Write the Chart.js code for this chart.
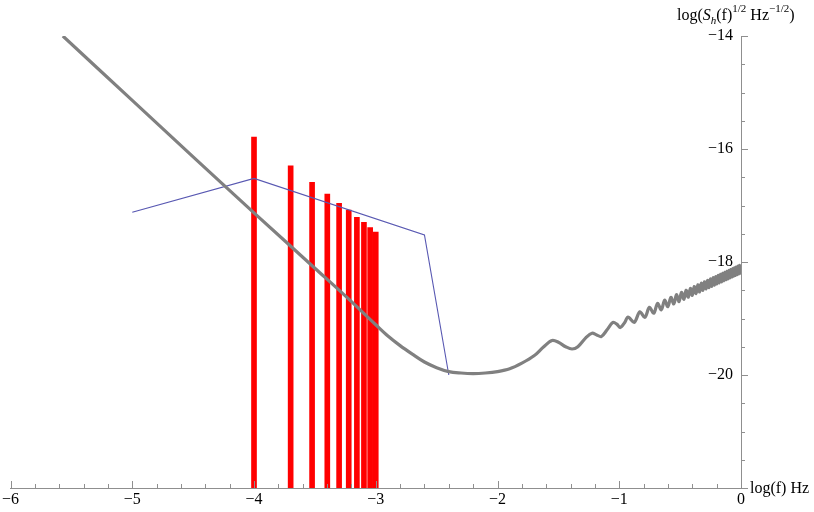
<!DOCTYPE html>
<html>
<head>
<meta charset="utf-8">
<script src="https://cdn.jsdelivr.net/npm/chart.js@4.4.0/dist/chart.umd.min.js"></script>
<style>
  html, body { margin: 0; padding: 0; background: #fff; }
  #wrap { position: relative; width: 814px; height: 512px; overflow: hidden; }
  canvas { position: absolute; left: 0; top: 0; }
  .ttl { position: absolute; font-family: "Liberation Serif", "DejaVu Serif", serif; font-size: 16px; color: #000; white-space: nowrap; line-height: 1; }
  .ttl sup, .ttl sub { font-size: 11px; line-height: 0; }
  .ttl sup { position: relative; top: -0.15em; vertical-align: super; }
  .ttl sub { position: relative; vertical-align: sub; }
</style>
</head>
<body>
<div id="wrap">
  <canvas id="c" width="814" height="512"></canvas>
  <div class="ttl" id="xt" style="left:750px; top:480px;">log(f) Hz</div>
  <div class="ttl" id="yt" style="left:677px; top:7px;">log(<i>S</i><sub><i>h</i></sub>(f)<sup>1/2</sup> Hz<sup>&minus;1/2</sup>)</div>
</div>
<script>
// ---------- data ----------
const xTicks = [-6, -5, -4, -3, -2, -1, 0];
const yTicks = [-20, -18, -16, -14];
const xRange = [-6, 0];
const yRange = [-22, -14];

// red bars: log10 of harmonic frequencies and their tops
const barFreq = [-4.000, -3.699, -3.523, -3.398, -3.301, -3.222, -3.155, -3.097, -3.046, -3.000];
const barTops = [-15.79, -16.30, -16.59, -16.80, -16.96, -17.08, -17.21, -17.30, -17.39, -17.47];

// thin blue broken line
const blueFreq = [-5.0, -4.0, -2.6, -2.4];
const blueVals = [-17.12, -16.52, -17.52, -20.0];

// gray sensitivity curve
const sensFreq = [
  -5.57, -5.0, -4.5, -4.0, -3.5, -3.25, -3.0, -2.9, -2.8, -2.7, -2.6, -2.5, -2.4, -2.3, -2.2, -2.1, -2.0,
  -1.9, -1.8, -1.7, -1.62, -1.552, -1.50, -1.44, -1.388, -1.34, -1.27, -1.224, -1.185, -1.148, -1.10,
  -1.052, -1.02, -0.992, -0.955, -0.928,
  -0.877, -0.831, -0.790, -0.752, -0.717, -0.685, -0.655, -0.627, -0.601, -0.576, -0.552, -0.530,
  -0.509, -0.489, -0.469, -0.451, -0.433, -0.416, -0.400, -0.384, -0.369, -0.354, -0.340, -0.326,
  -0.313, -0.300, -0.287, -0.275, -0.263, -0.251, -0.240, -0.229, -0.218, -0.208, -0.198, -0.188,
  -0.178, -0.168, -0.159, -0.150, -0.141, -0.132, -0.124, -0.115, -0.107, -0.099, -0.091, -0.083,
  -0.075, -0.068, -0.060, -0.053, -0.046, -0.039, -0.032, -0.025, -0.018, -0.012, -0.005, 0.0
];
const sensVals = [
  -14.0, -15.14, -16.14, -17.13, -18.11, -18.60, -19.11, -19.31, -19.48, -19.63, -19.77, -19.87, -19.94, -19.965, -19.975, -19.965, -19.94,
  -19.89, -19.79, -19.66, -19.50, -19.39, -19.42, -19.50, -19.54, -19.50, -19.33, -19.26, -19.29, -19.32, -19.20,
  -19.07, -19.10, -19.16, -19.07, -18.975,
  -19.067, -18.881, -18.980, -18.802, -18.907, -18.735, -18.845, -18.677, -18.791, -18.626, -18.742, -18.580,
  -18.699, -18.539, -18.659, -18.501, -18.623, -18.466, -18.590, -18.434, -18.559, -18.404, -18.530, -18.376,
  -18.503, -18.350, -18.477, -18.325, -18.453, -18.301, -18.430, -18.279, -18.408, -18.258, -18.388, -18.238,
  -18.368, -18.218, -18.349, -18.200, -18.331, -18.182, -18.314, -18.165, -18.297, -18.149, -18.281, -18.133,
  -18.265, -18.118, -18.250, -18.103, -18.236, -18.089, -18.222, -18.075, -18.208, -18.062, -18.195, -18.07
];

// ---------- style ----------
const AXIS = '#8f8f8f';
const FONT = { family: '"Liberation Serif", "DejaVu Serif", serif', size: 16 };
const fmt = v => (v < 0 ? '\u2212' + Math.abs(v) : String(v));

const minorTicks = {
  id: 'minorTicks',
  afterDraw(chart) {
    const ctx = chart.ctx, xs = chart.scales.x, ys = chart.scales.y;
    const y0 = ys.getPixelForValue(yRange[0]);
    const x0 = xs.getPixelForValue(xRange[1]);
    ctx.save();
    ctx.strokeStyle = AXIS;
    ctx.lineWidth = 1;
    ctx.beginPath();
    for (let k = 0; k <= 30; k++) {
      const v = xRange[0] + k * 0.2;
      const major = k % 5 === 0;
      const px = Math.round(xs.getPixelForValue(v)) + 0.5;
      ctx.moveTo(px, y0);
      ctx.lineTo(px, y0 - (major ? 7 : 4));
    }
    for (let k = 0; k <= 16; k++) {
      const v = yRange[0] + k * 0.5;
      const major = k % 4 === 0;
      const py = Math.round(ys.getPixelForValue(v)) + 0.5;
      ctx.moveTo(x0, py);
      ctx.lineTo(x0 + (major ? 7 : 4), py);
    }
    ctx.stroke();
    ctx.restore();
  }
};

new Chart(document.getElementById('c'), {
  data: {
    datasets: [
      {
        type: 'line',
        label: 'sensitivity',
        data: sensFreq.map((f, i) => ({ x: f, y: sensVals[i] })),
        borderColor: '#808080',
        borderWidth: 3.2,
        pointRadius: 0,
        tension: 0.35,
        fill: false,
        order: 0
      },
      {
        type: 'line',
        label: 'source',
        data: blueFreq.map((f, i) => ({ x: f, y: blueVals[i] })),
        borderColor: 'rgb(88,88,178)',
        borderWidth: 1.1,
        pointRadius: 0,
        tension: 0,
        fill: false,
        order: 1
      },
      {
        type: 'bar',
        label: 'harmonics',
        data: barFreq.map((f, i) => ({ x: f, y: [yRange[0], barTops[i]] })),
        backgroundColor: '#ff0000',
        borderWidth: 0,
        barThickness: 5,
        order: 2
      }
    ]
  },
  options: {
    responsive: false,
    animation: false,
    devicePixelRatio: 1,
    layout: { padding: { left: 9, top: 36, right: 0, bottom: 0 } },
    plugins: { legend: { display: false }, tooltip: { enabled: false } },
    scales: {
      x: {
        type: 'linear',
        position: 'bottom',
        min: xRange[0], max: xRange[1],
        offset: false,
        afterBuildTicks: s => { s.ticks = xTicks.map(v => ({ value: v })); },
        afterFit: s => { s.height = 24; },
        ticks: { callback: fmt, font: FONT, color: '#000', padding: 2, maxRotation: 0, autoSkip: false },
        grid: { display: true, drawOnChartArea: false, drawTicks: false, color: 'rgba(0,0,0,0)' },
        border: { display: true, color: AXIS, width: 1 }
      },
      y: {
        type: 'linear',
        position: 'right',
        min: yRange[0], max: yRange[1],
        afterBuildTicks: s => { s.ticks = yTicks.map(v => ({ value: v })); },
        afterFit: s => { s.width = 73; },
        ticks: { callback: fmt, font: FONT, color: '#000', mirror: true, padding: -8, crossAlign: 'near', autoSkip: false },
        grid: { display: true, drawOnChartArea: false, drawTicks: false, color: 'rgba(0,0,0,0)' },
        border: { display: true, color: AXIS, width: 1 }
      }
    }
  },
  plugins: [minorTicks]
});
</script>
</body>
</html>
